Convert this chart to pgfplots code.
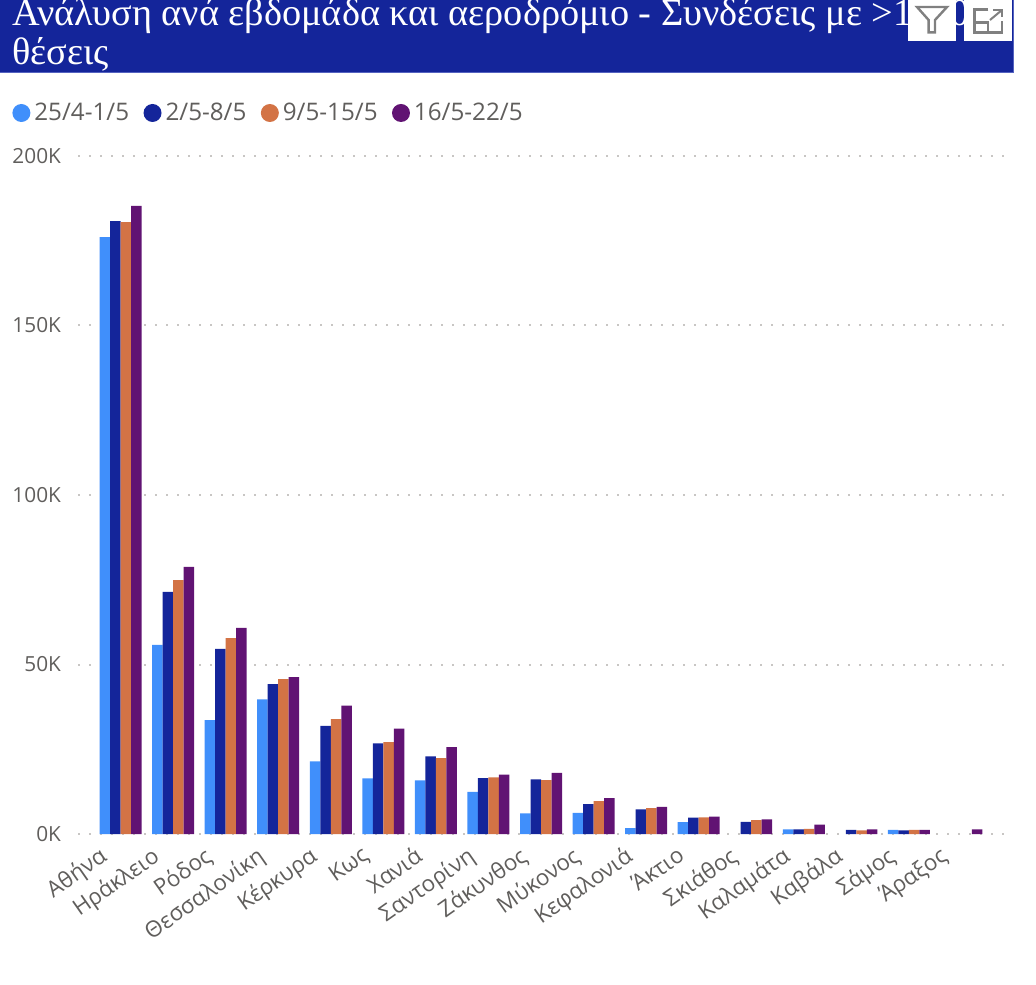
\documentclass[border=0pt]{standalone}
\usepackage{fontspec}
\setmainfont{Open Sans}
\newfontfamily\titlefont{Liberation Serif}
\usepackage{pgfplots}
\usepackage{pgfplotstable}
\pgfplotsset{compat=1.18}

\definecolor{sera}{HTML}{408FFB}
\definecolor{serb}{HTML}{14259A}
\definecolor{serc}{HTML}{D37345}
\definecolor{serd}{HTML}{611373}
\definecolor{txt}{HTML}{605E5C}
\definecolor{griddot}{HTML}{C8C6C4}
\definecolor{icon}{HTML}{808080}
\definecolor{bandedge}{HTML}{5563C0}

% 1 px of the reference = 0.5pt
\pgfplotstableread{
x  a      b      c      d
0  176100 180800 180500 185300
1  55800  71400  74900  78800
2  33600  54600  57800  60800
3  39700  44200  45700  46300
4  21400  31900  33900  37900
5  16400  26700  27100  31100
6  15800  22900  22400  25600
7  12400  16500  16700  17500
8  6100   16100  15900  18000
9  6200   8800   9700   10600
10 1700   7300   7600   8000
11 3500   4800   4900   5100
12 nan    3600   4100   4300
13 1400   1400   1500   2800
14 nan    1200   1100   1400
15 1200   1100   1200   1200
16 nan    nan    nan    1400
}\airports

\begin{document}
\begin{tikzpicture}[x=1pt,y=1pt]
\path[use as bounding box] (0,0) rectangle (518,492);
\begin{axis}[
  at={(39pt,75pt)},
  anchor=south west,
  scale only axis,
  width=463pt,
  height=339pt,
  ybar=0pt,
  bar width=5.25pt,
  xmin=-0.81, xmax=16.81,
  ymin=0, ymax=200000,
  xtick={0,...,16},
  xticklabels={Αθήνα,Ηράκλειο,Ρόδος,Θεσσαλονίκη,Κέρκυρα,Κως,Χανιά,Σαντορίνη,Ζάκυνθος,Μύκονος,Κεφαλονιά,Άκτιο,Σκιάθος,Καλαμάτα,Καβάλα,Σάμος,Άραξος},
  ytick={0,50000,100000,150000,200000},
  yticklabels={0K,50K,100K,150K,200K},
  scaled y ticks=false,
  major tick length=0pt,
  axis line style={draw=none},
  ymajorgrids=true,
  grid style={griddot,line width=1pt,dash pattern=on 1pt off 4.5pt},
  tick label style={txt},
  x tick label style={font=\fontsize{11.2}{13}\selectfont,rotate=35,anchor=north east,xshift=-9pt,yshift=5.5pt},
  y tick label style={font=\fontsize{10.4}{12}\selectfont,xshift=-5pt},
  legend columns=4,
  legend style={at={(-33pt,360.5pt)},anchor=west,draw=none,fill=none,
    font=\fontsize{12.1}{14}\selectfont,text=txt,inner xsep=0pt,
    /tikz/every even column/.append style={column sep=5.2pt}},
  legend image code/.code={\fill[#1] (4.5pt,0pt) circle (4.5pt);},
]
\addplot[fill=sera,draw=none] table[x=x,y=a] {\airports};
\addplot[fill=serb,draw=none] table[x=x,y=b] {\airports};
\addplot[fill=serc,draw=none] table[x=x,y=c] {\airports};
\addplot[fill=serd,draw=none] table[x=x,y=d] {\airports};
\legend{25/4-1/5,2/5-8/5,9/5-15/5,16/5-22/5}
\end{axis}
% title band and visual header buttons
\fill[serb] (0,455.5) rectangle (506.5,492);
\draw[bandedge,line width=0.5pt] (0,455.5) -- (506.5,455.5) -- (506.5,492);
\node[anchor=base west,inner sep=0pt,text=white,font=\titlefont\fontsize{19.15}{22}\selectfont] at (6,479) {Ανάλυση ανά εβδομάδα και αεροδρόμιο - Συνδέσεις με >1000};
\node[anchor=base west,inner sep=0pt,text=white,font=\titlefont\fontsize{19.15}{22}\selectfont] at (6,459.5) {θέσεις};
\fill[white] (454,471.5) rectangle (478,492);
\fill[white] (482,471.5) rectangle (506,492);
\draw[icon,line width=1.2pt] (458.5,488.5) -- (473.5,488.5) -- (467.5,482) -- (467.5,475.8) -- (464.3,475.8) -- (464.3,482) -- cycle;
\draw[icon,line width=1.2pt] (494.2,487.3) -- (487.2,487.3) -- (487.2,475.8) -- (501,475.8) -- (501,481.5);
\draw[icon,line width=1.2pt] (487.2,480.8) -- (494,480.8) -- (494,475.8);
\draw[icon,line width=1pt] (496.7,487) -- (501,487) -- (501,483.3);
\draw[icon,line width=1pt] (501,487) -- (495,482);
\end{tikzpicture}
\end{document}
